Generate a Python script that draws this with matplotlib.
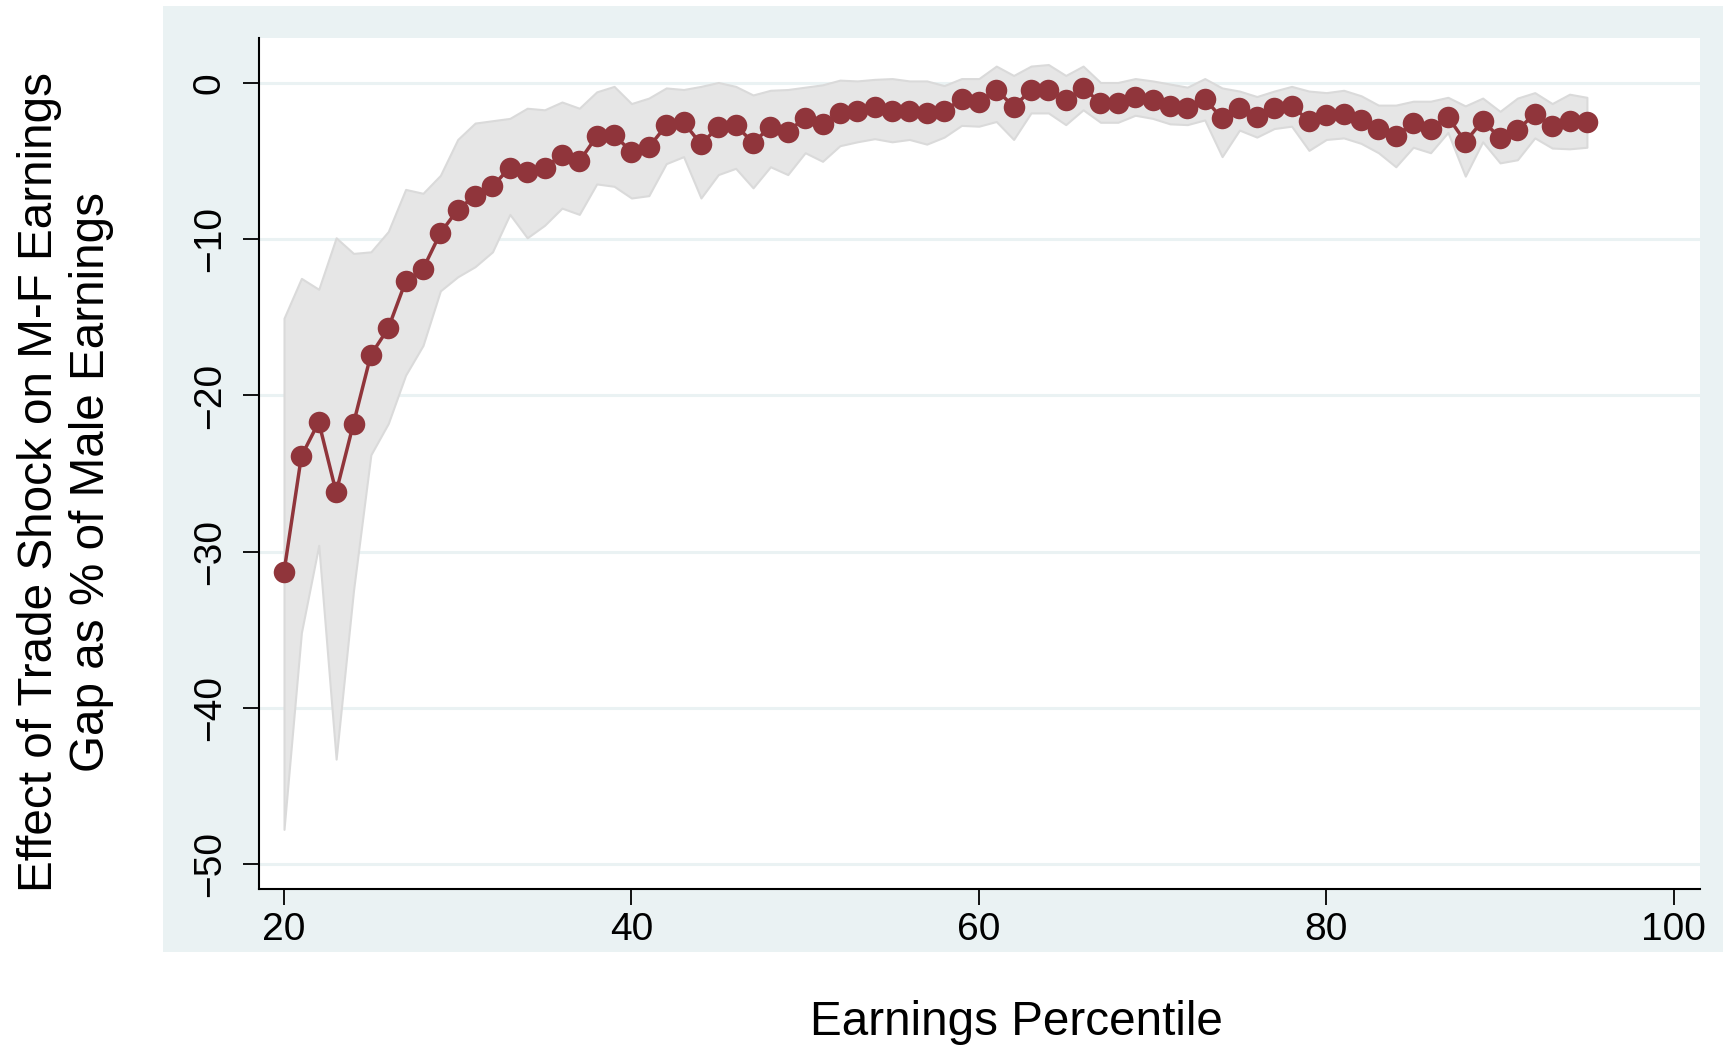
import matplotlib
matplotlib.use("Agg")
import matplotlib.pyplot as plt
from matplotlib.patches import Rectangle

plt.rcParams['font.family'] = ['Liberation Sans', 'DejaVu Sans']

# Earnings percentiles and estimated effects with confidence bounds
percentile = list(range(20, 96))

effect = [
    -31.3, -23.9, -21.7, -26.2, -21.8, -17.4, -15.7, -12.7, -11.9, -9.6,
    -8.1, -7.2, -6.6, -5.4, -5.7, -5.4, -4.6, -5.0, -3.4, -3.3,
    -4.4, -4.1, -2.7, -2.5, -3.9, -2.8, -2.7, -3.8, -2.8, -3.1,
    -2.2, -2.6, -1.9, -1.8, -1.5, -1.75, -1.75, -1.9, -1.8, -1.0,
    -1.2, -0.4, -1.5, -0.45, -0.4, -1.1, -0.3, -1.25, -1.25, -0.9,
    -1.1, -1.45, -1.6, -1.0, -2.25, -1.6, -2.15, -1.6, -1.45, -2.4,
    -2.05, -1.96, -2.35, -2.9, -3.4, -2.55, -2.9, -2.15, -3.75, -2.4,
    -3.5, -3.0, -1.95, -2.75, -2.4, -2.5,
]

ci_upper = [
    -15.05, -12.5, -13.2, -9.9, -10.9, -10.8, -9.5, -6.8, -7.05, -5.9,
    -3.6, -2.55, -2.4, -2.25, -1.6, -1.7, -1.2, -1.6, -0.55, -0.2,
    -1.3, -0.95, -0.3, -0.4, -0.2, 0.05, -0.2, -0.75, -0.45, -0.4,
    -0.25, -0.1, 0.2, 0.15, 0.25, 0.3, 0.15, 0.15, -0.15, 0.3,
    0.3, 1.1, 0.5, 1.1, 1.2, 0.5, 1.1, 0.05, 0.05, 0.3,
    0.15, -0.05, -0.25, 0.3, -0.3, -0.5, -0.85, -0.5, -0.2, -0.5,
    -0.6, -0.45, -0.8, -1.4, -1.4, -1.15, -1.15, -0.9, -1.45, -0.95,
    -1.8, -0.95, -0.6, -1.3, -0.7, -0.9,
]

ci_lower = [
    -47.8, -35.2, -29.6, -43.3, -32.5, -23.8, -21.8, -18.7, -16.8, -13.3,
    -12.4, -11.75, -10.8, -8.4, -9.9, -9.1, -8.0, -8.4, -6.45, -6.6,
    -7.35, -7.2, -5.15, -4.7, -7.35, -5.85, -5.45, -6.7, -5.35, -5.85,
    -4.45, -5.0, -4.0, -3.75, -3.55, -3.75, -3.6, -3.9, -3.45, -2.7,
    -2.75, -2.45, -3.6, -1.9, -1.9, -2.65, -1.7, -2.5, -2.5, -2.05,
    -2.25, -2.6, -2.65, -2.35, -4.7, -3.0, -3.45, -2.9, -2.75, -4.3,
    -3.6, -3.5, -3.85, -4.45, -5.35, -4.1, -4.45, -3.15, -5.95, -3.75,
    -5.1, -4.9, -3.5, -4.15, -4.2, -4.1,
]

x_ticks = [20, 40, 60, 80, 100]
y_ticks = [0, -10, -20, -30, -40, -50]

W, H = 1723, 1045
fig = plt.figure(figsize=(W / 100, H / 100), dpi=100, facecolor='white')

# Shaded graph region behind the plot
bg = Rectangle((163 / W, 1 - 952 / H), 1 - 163 / W, (952 - 6) / H,
               transform=fig.transFigure, facecolor='#eaf2f3',
               edgecolor='none', zorder=-10)
fig.patches.append(bg)

ax = fig.add_axes([259 / W, 1 - 889 / H, (1700 - 259) / W, (889 - 38) / H])
ax.set_facecolor('white')
ax.set_zorder(1)

ax.fill_between(percentile, ci_lower, ci_upper, facecolor='#e6e6e6',
                edgecolor='#dadada', linewidth=1.5, zorder=2)
ax.plot(percentile, effect, color='#90353b', linewidth=2.5, marker='o',
        markersize=15.5, markeredgewidth=0, zorder=3)

ax.set_xlim(18.56, 101.51)
ax.set_ylim(-51.62, 2.9)
ax.set_xticks(x_ticks)
ax.set_yticks(y_ticks)
ax.set_xticklabels([str(t) for t in x_ticks])
ax.set_yticklabels([str(t).replace('-', '\u2212') for t in y_ticks],
                   rotation=90, va='center')

ax.set_axisbelow(True)
ax.yaxis.grid(True, color='#eaf2f3', linewidth=2.2)
ax.xaxis.grid(False)

for side in ('top', 'right'):
    ax.spines[side].set_visible(False)
for side in ('left', 'bottom'):
    ax.spines[side].set_color('black')
    ax.spines[side].set_linewidth(1.5)

ax.tick_params(axis='both', direction='out', length=11.5, width=1.3,
               colors='black', labelsize=28)
ax.tick_params(axis='x', pad=5)
ax.tick_params(axis='y', pad=11)

fig.text(1016 / W, 1 - 1035 / H, 'Earnings Percentile', fontsize=34.3,
         ha='center', va='baseline')
fig.text(66 / W, 1 - 482 / H,
         'Effect of Trade Shock on M-F Earnings\nGap as % of Male Earnings',
         fontsize=34.3, rotation=90, ha='center', va='center',
         multialignment='center', linespacing=1.2)

fig.savefig('out.png', dpi=100, facecolor='white')
